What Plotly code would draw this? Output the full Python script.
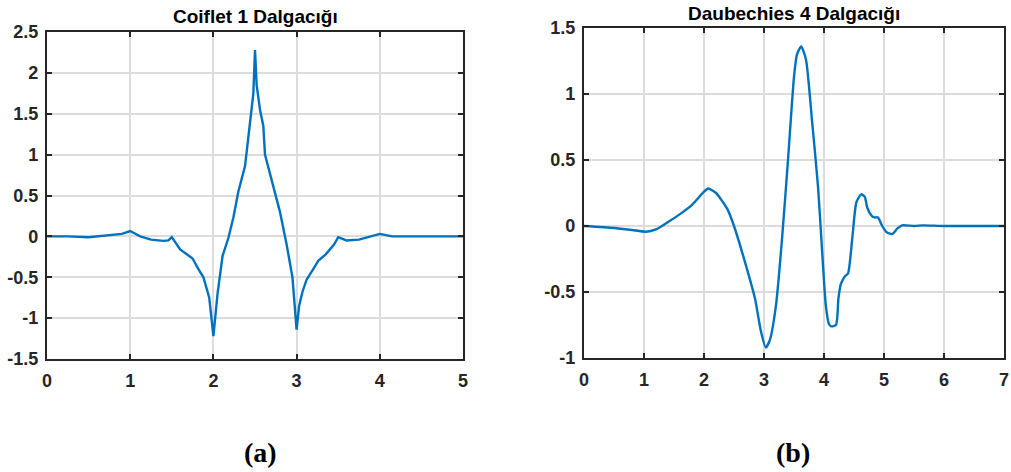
import plotly.graph_objects as go

# Coiflet 1 wavelet
coif_x = [0, 0.25, 0.5, 0.75, 0.9, 1.0, 1.12, 1.25, 1.4, 1.46, 1.5, 1.6, 1.68, 1.75, 1.82, 1.88, 1.95, 2.0,
          2.05, 2.11, 2.18, 2.24, 2.3, 2.38, 2.44, 2.48, 2.5, 2.52, 2.56, 2.6, 2.62, 2.7, 2.8, 2.88, 2.95, 3.0,
          3.03, 3.07, 3.12, 3.2, 3.26, 3.35, 3.45, 3.5, 3.6, 3.75, 3.9, 4.0, 4.15, 4.5, 5.0]
coif_y = [0, 0.0, -0.01, 0.01, 0.03, 0.065, 0.0, -0.04, -0.055, -0.05, -0.01, -0.16, -0.22, -0.27, -0.4, -0.5, -0.75, -1.22,
          -0.7, -0.24, -0.02, 0.23, 0.55, 0.86, 1.39, 1.75, 2.28, 1.85, 1.55, 1.35, 1.0, 0.7, 0.3, -0.1, -0.5, -1.14,
          -0.85, -0.68, -0.53, -0.4, -0.3, -0.22, -0.1, -0.01, -0.05, -0.04, 0.0, 0.03, 0.0, 0.0, 0.0]

# Daubechies 4 wavelet
db4_x = [0, 0.5, 0.8, 1.03, 1.2, 1.4, 1.6, 1.8, 2.0, 2.07, 2.2, 2.39, 2.5, 2.7, 2.85, 2.95, 3.03, 3.1, 3.2,
         3.3, 3.4, 3.5, 3.55, 3.62, 3.7, 3.8, 3.9, 3.97, 4.03, 4.08, 4.12, 4.2, 4.24, 4.28, 4.35, 4.4, 4.47, 4.54,
         4.62, 4.68, 4.72, 4.79, 4.84, 4.9, 4.97, 5.05, 5.14, 5.22, 5.3, 5.5, 5.65, 6.0, 7.0]
db4_y = [0, -0.015, -0.03, -0.043, -0.025, 0.03, 0.09, 0.16, 0.26, 0.284, 0.25, 0.128, 0.0, -0.3, -0.55, -0.8, -0.92, -0.86, -0.6,
         -0.1, 0.5, 1.13, 1.3, 1.36, 1.26, 0.8, 0.3, -0.2, -0.6, -0.74, -0.76, -0.75, -0.55, -0.44, -0.38, -0.36, -0.1, 0.18,
         0.24, 0.22, 0.14, 0.08, 0.065, 0.065, 0.0, -0.05, -0.06, -0.02, 0.005, 0.0, 0.005, 0.0, 0.0]

left_xticks = [0, 1, 2, 3, 4, 5]
left_yticks = [-1.5, -1, -0.5, 0, 0.5, 1, 1.5, 2, 2.5]
left_yticktext = ["-1.5", "-1", "-0.5", "0", "0.5", "1", "1.5", "2", "2.5"]
right_xticks = [0, 1, 2, 3, 4, 5, 6, 7]
right_yticks = [-1, -0.5, 0, 0.5, 1, 1.5]
right_yticktext = ["-1", "-0.5", "0", "0.5", "1", "1.5"]

titles = ["Coiflet 1 Dalgacığı", "Daubechies 4 Dalgacığı"]
labels = ["(a)", "(b)"]

W, H = 1011, 472
LINE = "#0072BD"
AX = "#262626"
GRID = "#dcdcdc"
TICKFONT = dict(family="Liberation Sans, Arial", size=18, color=AX, weight="bold")

fig = go.Figure()
fig.add_trace(go.Scatter(x=coif_x, y=coif_y, mode="lines", line=dict(color=LINE, width=2.4),
                         xaxis="x", yaxis="y", showlegend=False, hoverinfo="skip"))
fig.add_trace(go.Scatter(x=db4_x, y=db4_y, mode="lines", line=dict(color=LINE, width=2.4, shape="spline", smoothing=0.6),
                         xaxis="x2", yaxis="y2", showlegend=False, hoverinfo="skip"))

def ax(domain, rng, tv, tt=None, anchor=None, standoff=4):
    d = dict(domain=domain, range=rng, tickvals=tv, ticks="inside", ticklen=5, tickwidth=1.5,
             tickcolor=AX, showline=True, linecolor=AX, linewidth=2.4, mirror="ticks",
             showgrid=True, gridcolor=GRID, gridwidth=1.5, zeroline=False, automargin=False,
             tickfont=TICKFONT, fixedrange=True, ticklabelstandoff=standoff)
    if tt is not None:
        d["ticktext"] = tt
    if anchor:
        d["anchor"] = anchor
    return d

x1 = [47 / W, 463 / W]
y1 = [(H - 359) / H, (H - 32) / H]
x2 = [584 / W, 1004 / W]
y2 = [(H - 358) / H, (H - 28) / H]

fig.update_layout(
    width=W, height=H, margin=dict(l=0, r=0, t=0, b=0),
    paper_bgcolor="white", plot_bgcolor="white",
    xaxis=ax(x1, [0, 5], left_xticks, anchor="y", standoff=4),
    yaxis=ax(y1, [-1.5, 2.5], left_yticks, left_yticktext, anchor="x", standoff=3),
    xaxis2=ax(x2, [0, 7], right_xticks, anchor="y2", standoff=4),
    yaxis2=ax(y2, [-1, 1.5], right_yticks, right_yticktext, anchor="x2", standoff=3),
)

TFONT = dict(family="Liberation Sans, Arial", size=19, color="black", weight="bold")
LFONT = dict(family="Liberation Serif, Times New Roman", size=28, color="black", weight="bold")
fig.add_annotation(x=(x1[0] + x1[1]) / 2, y=(H - 16) / H, xref="paper", yref="paper", text=titles[0],
                   xanchor="center", yanchor="middle", showarrow=False, font=TFONT)
fig.add_annotation(x=(x2[0] + x2[1]) / 2, y=(H - 13) / H, xref="paper", yref="paper", text=titles[1],
                   xanchor="center", yanchor="middle", showarrow=False, font=TFONT)
fig.add_annotation(x=260 / W, y=(H - 452) / H, xref="paper", yref="paper", text=labels[0],
                   xanchor="center", yanchor="middle", showarrow=False, font=LFONT)
fig.add_annotation(x=793 / W, y=(H - 452) / H, xref="paper", yref="paper", text=labels[1],
                   xanchor="center", yanchor="middle", showarrow=False, font=LFONT)

fig.write_html("out.html")
